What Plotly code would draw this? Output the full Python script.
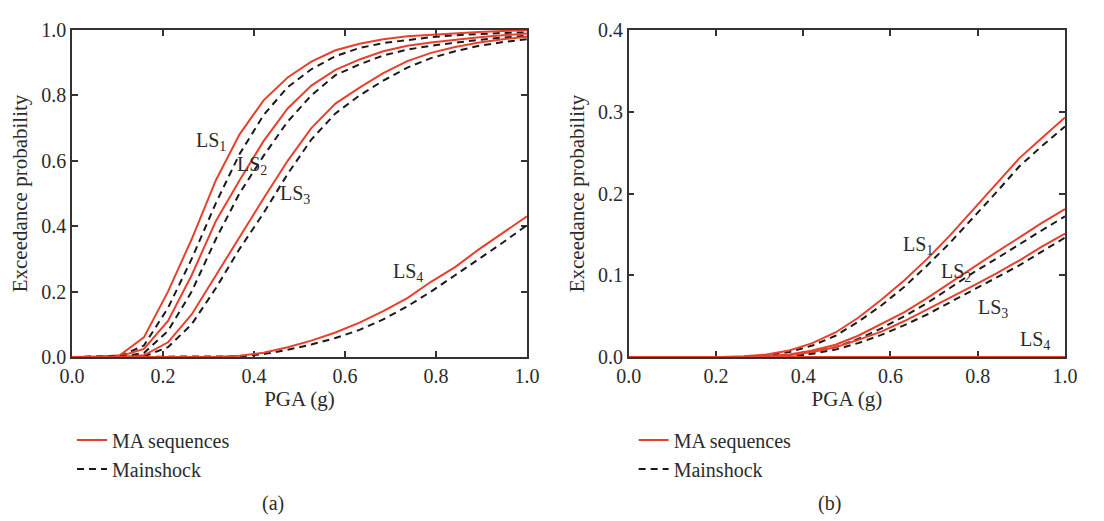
import plotly.graph_objects as go

# PGA grid (g)
pga = [0.0, 0.053, 0.105, 0.158, 0.211, 0.263, 0.316, 0.368, 0.421, 0.474,
       0.526, 0.579, 0.632, 0.684, 0.737, 0.789, 0.842, 0.895, 0.947, 1.0]

# Panel (a): MA sequences (solid red) and mainshock (dashed black)
a_ma_ls1 = [0, 0, 0.005, 0.06, 0.20, 0.36, 0.54, 0.68, 0.785, 0.855,
            0.903, 0.938, 0.958, 0.972, 0.981, 0.986, 0.990, 0.994, 0.997, 0.999]
a_ms_ls1 = [0, 0, 0.002, 0.035, 0.15, 0.30, 0.47, 0.62, 0.74, 0.825,
            0.88, 0.92, 0.945, 0.96, 0.97, 0.978, 0.984, 0.988, 0.991, 0.993]
a_ma_ls2 = [0, 0, 0.002, 0.025, 0.11, 0.25, 0.415, 0.54, 0.66, 0.76,
            0.83, 0.878, 0.91, 0.935, 0.952, 0.962, 0.971, 0.978, 0.984, 0.989]
a_ms_ls2 = [0, 0, 0.001, 0.012, 0.08, 0.20, 0.36, 0.50, 0.615, 0.72,
            0.80, 0.862, 0.895, 0.922, 0.94, 0.952, 0.962, 0.970, 0.977, 0.982]
a_ma_ls3 = [0, 0, 0, 0.005, 0.045, 0.13, 0.25, 0.365, 0.485, 0.60,
            0.70, 0.775, 0.824, 0.868, 0.905, 0.930, 0.948, 0.962, 0.972, 0.979]
a_ms_ls3 = [0, 0, 0, 0.002, 0.03, 0.10, 0.21, 0.33, 0.44, 0.56,
            0.665, 0.745, 0.80, 0.845, 0.885, 0.914, 0.935, 0.952, 0.963, 0.972]
a_ma_ls4 = [0, 0, 0, 0, 0, 0, 0, 0.004, 0.013, 0.03,
            0.05, 0.075, 0.105, 0.14, 0.18, 0.23, 0.275, 0.33, 0.38, 0.43]
a_ms_ls4 = [0, 0, 0, 0, 0, 0, 0, 0.002, 0.009, 0.022,
            0.038, 0.058, 0.083, 0.115, 0.155, 0.20, 0.25, 0.30, 0.35, 0.403]

# Panel (b)
b_ma_ls1 = [0, 0, 0, 0, 0, 0.001, 0.003, 0.008, 0.017, 0.03,
            0.048, 0.07, 0.094, 0.12, 0.149, 0.18, 0.211, 0.243, 0.268, 0.293]
b_ms_ls1 = [0, 0, 0, 0, 0, 0, 0.002, 0.006, 0.014, 0.026,
            0.043, 0.063, 0.086, 0.112, 0.14, 0.17, 0.201, 0.233, 0.258, 0.282]
b_ma_ls2 = [0, 0, 0, 0, 0, 0, 0.001, 0.003, 0.008, 0.015,
            0.026, 0.04, 0.055, 0.072, 0.091, 0.11, 0.128, 0.146, 0.164, 0.181]
b_ms_ls2 = [0, 0, 0, 0, 0, 0, 0, 0.002, 0.006, 0.012,
            0.022, 0.035, 0.05, 0.066, 0.085, 0.103, 0.12, 0.138, 0.155, 0.172]
b_ma_ls3 = [0, 0, 0, 0, 0, 0, 0.001, 0.002, 0.006, 0.012,
            0.021, 0.031, 0.044, 0.058, 0.073, 0.087, 0.102, 0.118, 0.135, 0.151]
b_ms_ls3 = [0, 0, 0, 0, 0, 0, 0, 0.001, 0.004, 0.009,
            0.017, 0.027, 0.039, 0.052, 0.067, 0.081, 0.096, 0.112, 0.129, 0.146]
b_ma_ls4 = [0] * 20
b_ms_ls4 = [0] * 20

series_names = ["MA sequences", "Mainshock"]
ls_labels = ["LS<sub>1</sub>", "LS<sub>2</sub>", "LS<sub>3</sub>", "LS<sub>4</sub>"]
a_label_x = [0.305, 0.396, 0.49, 0.738]
a_label_y = [0.66, 0.585, 0.497, 0.257]
b_label_x = [0.664, 0.751, 0.836, 0.932]
b_label_y = [0.136, 0.103, 0.059, 0.02]
captions = ["(a)", "(b)"]

RED = "#e8402c"
BLACK = "#1a1a1a"
FONT = "Liberation Serif"
TXT = "#2b2b2b"
FS = 20

fig = go.Figure()

panels = [
    ("x", "y", "legend", [a_ma_ls1, a_ma_ls2, a_ma_ls3, a_ma_ls4],
     [a_ms_ls1, a_ms_ls2, a_ms_ls3, a_ms_ls4]),
    ("x2", "y2", "legend2", [b_ma_ls1, b_ma_ls2, b_ma_ls3, b_ma_ls4],
     [b_ms_ls1, b_ms_ls2, b_ms_ls3, b_ms_ls4]),
]

for xa, ya, leg, ma_list, ms_list in panels:
    for i, (ma, ms) in enumerate(zip(ma_list, ms_list)):
        fig.add_trace(go.Scatter(
            x=pga, y=ms, mode="lines", xaxis=xa, yaxis=ya,
            line=dict(color=BLACK, width=2, dash="7px,5px"),
            name=series_names[1], legend=leg, showlegend=False,
            cliponaxis=False, hoverinfo="skip"))
        fig.add_trace(go.Scatter(
            x=pga, y=ma, mode="lines", xaxis=xa, yaxis=ya,
            line=dict(color=RED, width=2),
            name=series_names[0], legend=leg, showlegend=(i == 0),
            legendrank=1, cliponaxis=False, hoverinfo="skip"))
    fig.add_trace(go.Scatter(
        x=[None], y=[None], mode="lines", xaxis=xa, yaxis=ya,
        line=dict(color=BLACK, width=2, dash="7px,5px"),
        name=series_names[1], legend=leg, showlegend=True, legendrank=2))

for lbl, x, y in zip(ls_labels, a_label_x, a_label_y):
    fig.add_annotation(x=x, y=y, xref="x", yref="y", text=lbl, showarrow=False,
                       font=dict(family=FONT, size=FS, color=TXT))
for lbl, x, y in zip(ls_labels, b_label_x, b_label_y):
    fig.add_annotation(x=x, y=y, xref="x2", yref="y2", text=lbl, showarrow=False,
                       font=dict(family=FONT, size=FS, color=TXT))

fig.add_annotation(x=0.2024, y=-0.447, xref="paper", yref="paper", text=captions[0],
                   xanchor="center", yanchor="middle",
                   showarrow=False, font=dict(family=FONT, size=FS, color=TXT))
fig.add_annotation(x=0.763, y=-0.447, xref="paper", yref="paper", text=captions[1],
                   xanchor="center", yanchor="middle",
                   showarrow=False, font=dict(family=FONT, size=FS, color=TXT))

axis_common = dict(
    showline=True, linecolor="#333333", linewidth=1.5, mirror="ticks",
    ticks="inside", ticklen=6, tickwidth=1.5, tickcolor="#333333",
    showgrid=False, zeroline=False, layer="below traces",
    tickfont=dict(family=FONT, size=FS, color=TXT), tickformat=".1f",
)
title_font = dict(family=FONT, size=FS + 1, color=TXT)

fig.update_layout(
    width=1096, height=513,
    margin=dict(l=64, r=39, t=11, b=164),
    plot_bgcolor="white", paper_bgcolor="white",
    font=dict(family=FONT, size=FS, color=TXT),
    xaxis=dict(domain=[0, 0.4582], range=[0, 1], dtick=0.2,
               title=dict(text="PGA (g)", standoff=4, font=title_font),
               **axis_common),
    yaxis=dict(range=[0, 1], dtick=0.2,
               title=dict(text="Exceedance probability", standoff=8, font=title_font),
               **axis_common),
    xaxis2=dict(domain=[0.5606, 1], range=[0, 1], dtick=0.2, anchor="y2",
                title=dict(text="PGA (g)", standoff=4, font=title_font),
                **axis_common),
    yaxis2=dict(range=[0, 0.4], dtick=0.1, anchor="x2",
                title=dict(text="Exceedance probability", standoff=8, font=title_font),
                **axis_common),
    legend=dict(x=0.0, y=-0.194, xanchor="left", yanchor="top",
                font=dict(family=FONT, size=FS, color=TXT),
                bgcolor="rgba(0,0,0,0)", tracegroupgap=0, itemwidth=30),
    legend2=dict(x=0.5656, y=-0.194, xanchor="left", yanchor="top",
                 font=dict(family=FONT, size=FS, color=TXT),
                 bgcolor="rgba(0,0,0,0)", tracegroupgap=0, itemwidth=30),
)

fig.write_html("out.html")
